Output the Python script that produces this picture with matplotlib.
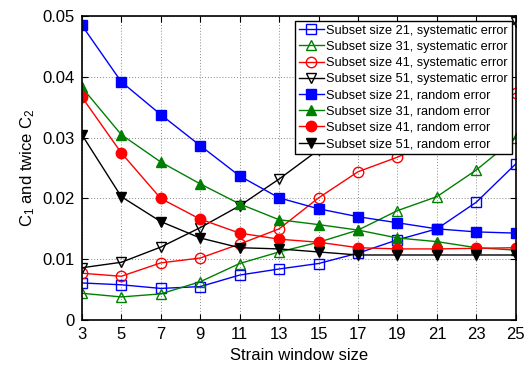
import matplotlib
matplotlib.use("Agg")
import matplotlib.pyplot as plt

plt.rcParams['font.family'] = ['Liberation Sans', 'DejaVu Sans']
plt.rcParams['mathtext.default'] = 'regular'

window = [3, 5, 7, 9, 11, 13, 15, 17, 19, 21, 23, 25]

sys21 = [0.0061, 0.0058, 0.0052, 0.0055, 0.0074, 0.0084, 0.0093, 0.0110, 0.0132, 0.0150, 0.0194, 0.0257]
sys31 = [0.0044, 0.0038, 0.0043, 0.0063, 0.0093, 0.0112, 0.0128, 0.0148, 0.0180, 0.0203, 0.0247, 0.0300]
sys41 = [0.0077, 0.0072, 0.0094, 0.0102, 0.0125, 0.0150, 0.0201, 0.0244, 0.0268, 0.0295, 0.0330, 0.0374]
sys51 = [0.0086, 0.0095, 0.0120, 0.0152, 0.0188, 0.0232, 0.0280, 0.0320, 0.0360, 0.0400, 0.0440, 0.0490]

rnd21 = [0.0485, 0.0392, 0.0338, 0.0287, 0.0237, 0.0201, 0.0183, 0.0170, 0.0160, 0.0150, 0.0145, 0.0143]
rnd31 = [0.0383, 0.0305, 0.0260, 0.0224, 0.0191, 0.0165, 0.0157, 0.0148, 0.0135, 0.0129, 0.0119, 0.0115]
rnd41 = [0.0367, 0.0275, 0.0200, 0.0166, 0.0143, 0.0133, 0.0128, 0.0119, 0.0117, 0.0117, 0.0118, 0.0119]
rnd51 = [0.0305, 0.0203, 0.0162, 0.0135, 0.0119, 0.0117, 0.0112, 0.0107, 0.0107, 0.0107, 0.0107, 0.0107]

labels = [
    "Subset size 21, systematic error",
    "Subset size 31, systematic error",
    "Subset size 41, systematic error",
    "Subset size 51, systematic error",
    "Subset size 21, random error",
    "Subset size 31, random error",
    "Subset size 41, random error",
    "Subset size 51, random error",
]

fig = plt.figure(figsize=(5.28, 3.67), dpi=100)
ax = fig.add_axes([0.155, 0.128, 0.822, 0.828])

colors = ['#0000FF', '#008000', '#FF0000', '#000000']
markers = ['s', '^', 'o', 'v']
sys_data = [sys21, sys31, sys41, sys51]
rnd_data = [rnd21, rnd31, rnd41, rnd51]

for i in range(4):
    ax.plot(window, sys_data[i], color=colors[i], marker=markers[i], markersize=7.5,
            markerfacecolor='none', markeredgecolor=colors[i], markeredgewidth=1.0,
            linewidth=1.0, label=labels[i], zorder=3)
for i in range(4):
    ax.plot(window, rnd_data[i], color=colors[i], marker=markers[i], markersize=7.5,
            markerfacecolor=colors[i], markeredgecolor=colors[i],
            linewidth=1.0, label=labels[4 + i], zorder=3)

ax.set_xlim(3, 25)
ax.set_ylim(0, 0.05)
ax.set_xticks(window)
ax.set_yticks([0, 0.01, 0.02, 0.03, 0.04, 0.05])
ax.set_yticklabels(['0', '0.01', '0.02', '0.03', '0.04', '0.05'])
ax.tick_params(direction='in', top=True, right=True, labelsize=12, length=4, width=0.8, pad=5)
ax.grid(True, linestyle=(0, (1, 2)), color='#888888', linewidth=0.7)
for s in ax.spines.values():
    s.set_linewidth(1.2)
    s.set_zorder(5)

ax.set_xlabel('Strain window size', fontsize=12, labelpad=4)
ax.set_ylabel('C$_1$ and twice C$_2$', fontsize=12, labelpad=4)

leg = ax.legend(loc='upper right', bbox_to_anchor=(0.99, 0.985), fontsize=9.2,
                frameon=True, fancybox=False, edgecolor='black', framealpha=1,
                labelspacing=0.33, handlelength=2.0, handletextpad=0.15,
                borderpad=0.3, borderaxespad=0.0, markerscale=1.0)
leg.get_frame().set_linewidth(1.0)
leg.set_zorder(10)

fig.savefig('out.png', dpi=100)
